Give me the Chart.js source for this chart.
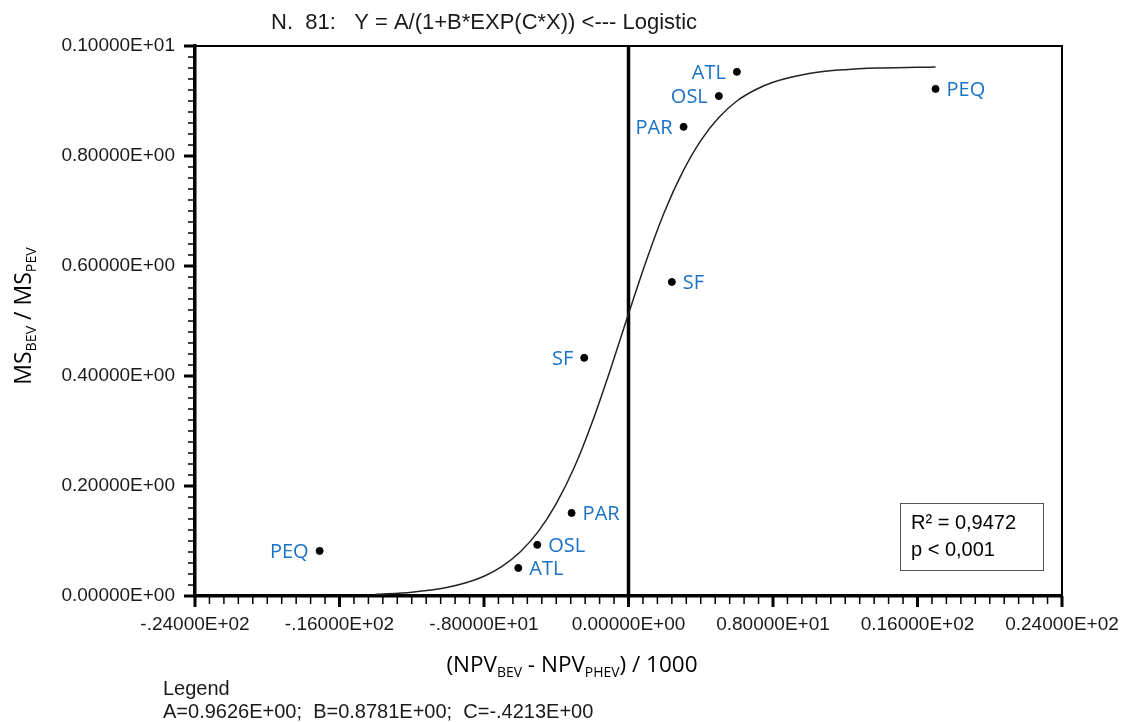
<!DOCTYPE html>
<html>
<head>
<meta charset="utf-8">
<script src="https://cdn.jsdelivr.net/npm/chart.js@4/dist/chart.umd.min.js"></script>
<style>
  body { margin: 0; background: #fff; }
  canvas { display: block; }
</style>
</head>
<body>
<canvas id="chart" width="1121" height="722"></canvas>
<script>
// observed cities, (NPV_BEV - NPV_PHEV)/1000 vs MS ratio
const pointNames = ["PEQ", "ATL", "OSL", "PAR", "SF", "SF", "PAR", "OSL", "ATL", "PEQ"]
const pointX = [-17.1, -6.1, -5.05, -3.15, -2.45, 2.4, 3.05, 5.0, 6.0, 17.0]
const pointY = [0.082, 0.051, 0.093, 0.151, 0.433, 0.571, 0.853, 0.909, 0.953, 0.922]
const labelSide = ["left", "right", "right", "right", "left", "right", "left", "left", "left", "right"]

// fitted logistic curve
const curveX = [-14, -12, -10, -9, -8, -7, -6, -5, -4, -3, -2, -1, 0, 1, 2, 3, 4, 5, 6, 7, 8, 10, 12, 14, 17]
const curveY = [0.003, 0.007, 0.016, 0.024, 0.036, 0.054, 0.080, 0.117, 0.168, 0.234, 0.317, 0.412, 0.513,
                0.611, 0.699, 0.771, 0.828, 0.870, 0.900, 0.920, 0.934, 0.950, 0.957, 0.960, 0.962]

const xTicks = [-24, -16, -8, 0, 8, 16, 24]
const xTickLabels = ["-.24000E+02", "-.16000E+02", "-.80000E+01", "0.00000E+00", "0.80000E+01", "0.16000E+02", "0.24000E+02"]
const yTicks = [0, 0.2, 0.4, 0.6, 0.8, 1.0]
const yTickLabels = ["0.00000E+00", "0.20000E+00", "0.40000E+00", "0.60000E+00", "0.80000E+00", "0.10000E+01"]

const titleText = "N.  81:   Y = A/(1+B*EXP(C*X)) <--- Logistic"
const legendLines = ["Legend", "A=0.9626E+00;  B=0.8781E+00;  C=-.4213E+00"]
const statLines = ["R\u00B2 = 0,9472", "p < 0,001"]

const ARIAL = '"Liberation Sans", Arial, sans-serif'
const CALIBRI = '"Open Sans", sans-serif'
const BLUE = "#1a72c6"

const findLabel = (ticks, labels, v) => {
    const i = ticks.findIndex(t => Math.abs(t - v) < 1e-6)
    return i >= 0 ? labels[i] : ""
}

// draw text with subscripts, parts like [["MS"], ["BEV", true]]
const richWidth = (ctx, parts, size) => parts.reduce((w, p) => {
    ctx.font = `${p[1] ? size * 0.62 : size}px ${CALIBRI}`
    return w + ctx.measureText(p[0]).width
}, 0)

const drawRich = (ctx, parts, x, y, size) => {
    const w = richWidth(ctx, parts, size)
    let cx = x - w / 2
    ctx.textAlign = "left"
    ctx.textBaseline = "alphabetic"
    parts.forEach(p => {
        ctx.font = `${p[1] ? size * 0.62 : size}px ${CALIBRI}`
        ctx.fillText(p[0], cx, p[1] ? y + size * 0.2 : y)
        cx += ctx.measureText(p[0]).width
    })
}

const decorPlugin = {
    id: "decor",
    afterDraw(chart) {
        const ctx = chart.ctx
        const area = chart.chartArea
        const xs = chart.scales.x
        const ys = chart.scales.y
        ctx.save()

        // top and right frame
        ctx.strokeStyle = "#000"
        ctx.lineWidth = 2
        ctx.beginPath()
        ctx.moveTo(area.left, area.top)
        ctx.lineTo(area.right, area.top)
        ctx.lineTo(area.right, area.bottom)
        ctx.stroke()

        // tick marks, major ones heavier
        xs.ticks.forEach(t => {
            const px = xs.getPixelForValue(t.value)
            const major = xTicks.some(v => Math.abs(v - t.value) < 1e-6)
            ctx.lineWidth = major ? 3 : 1.5
            ctx.beginPath()
            ctx.moveTo(px, area.bottom)
            ctx.lineTo(px, area.bottom + (major ? 11 : 8))
            ctx.stroke()
        })
        ys.ticks.forEach(t => {
            const py = ys.getPixelForValue(t.value)
            const major = yTicks.some(v => Math.abs(v - t.value) < 1e-6)
            ctx.lineWidth = major ? 3 : 1.5
            ctx.beginPath()
            ctx.moveTo(area.left, py)
            ctx.lineTo(area.left - (major ? 11 : 7), py)
            ctx.stroke()
        })

        // point labels
        const meta = chart.getDatasetMeta(0)
        ctx.fillStyle = BLUE
        ctx.font = `20px ${CALIBRI}`
        ctx.textBaseline = "middle"
        meta.data.forEach((el, i) => {
            const left = labelSide[i] === "left"
            ctx.textAlign = left ? "right" : "left"
            ctx.fillText(pointNames[i], el.x + (left ? -11 : 11), el.y + 1)
        })

        // title
        ctx.fillStyle = "#1a1a1a"
        ctx.font = `22px ${ARIAL}`
        ctx.textAlign = "left"
        ctx.textBaseline = "middle"
        ctx.fillText(titleText, 271, 23)

        // legend under the chart
        ctx.font = `20px ${ARIAL}`
        ctx.fillText(legendLines[0], 163, 689)
        ctx.fillText(legendLines[1], 163, 712)

        // stats box
        ctx.strokeStyle = "#555"
        ctx.lineWidth = 1
        ctx.strokeRect(900.5, 503.5, 143, 67)
        ctx.fillStyle = "#000"
        ctx.font = `20px ${ARIAL}`
        ctx.fillText(statLines[0], 911, 523)
        ctx.fillText(statLines[1], 911, 550)

        // axis titles
        ctx.fillStyle = "#000"
        drawRich(ctx, [["(NPV"], ["BEV", true], [" - NPV"], ["PHEV", true], [") / 1000"]], 572, 672, 22.5)
        ctx.translate(31, 316)
        ctx.rotate(-Math.PI / 2)
        drawRich(ctx, [["MS"], ["BEV", true], [" / MS"], ["PEV", true]], 0, 0, 23)
        ctx.restore()
    }
}

const ctx = document.getElementById("chart").getContext("2d")

new Chart(ctx, {
    type: "scatter",
    data: {
        datasets: [
            {
                label: "cities",
                data: pointX.map((x, i) => ({ x: x, y: pointY[i] })),
                backgroundColor: "#000",
                borderColor: "#000",
                pointRadius: 3.5,
                pointHoverRadius: 3.5
            },
            {
                label: "fit",
                data: curveX.map((x, i) => ({ x: x, y: curveY[i] })),
                showLine: true,
                borderColor: "#222",
                borderWidth: 1.5,
                pointRadius: 0,
                cubicInterpolationMode: "monotone"
            },
            {
                label: "zero",
                data: [{ x: 0, y: 0 }, { x: 0, y: 1 }],
                showLine: true,
                borderColor: "#000",
                borderWidth: 3.5,
                pointRadius: 0
            }
        ]
    },
    options: {
        responsive: false,
        animation: false,
        events: [],
        layout: { padding: { left: 0, top: 46, right: 59, bottom: 0 } },
        plugins: {
            legend: { display: false },
            tooltip: { enabled: false }
        },
        scales: {
            x: {
                type: "linear",
                min: -24,
                max: 24,
                afterFit: scale => {
                    scale.height = 126
                    scale.paddingLeft = 0
                    scale.paddingRight = 0
                },
                grid: { display: false, drawTicks: false },
                border: { display: true, color: "#000", width: 3.5 },
                ticks: {
                    stepSize: 0.8,
                    autoSkip: false,
                    maxRotation: 0,
                    padding: 17,
                    color: "#1a1a1a",
                    font: { family: ARIAL, size: 19 },
                    callback: v => findLabel(xTicks, xTickLabels, v)
                }
            },
            y: {
                type: "linear",
                min: 0,
                max: 1,
                afterFit: scale => {
                    scale.width = 195
                    scale.paddingTop = 0
                    scale.paddingBottom = 0
                },
                grid: { display: false, drawTicks: false },
                border: { display: true, color: "#000", width: 3.5 },
                ticks: {
                    stepSize: 0.02,
                    autoSkip: false,
                    padding: 20,
                    color: "#1a1a1a",
                    font: { family: ARIAL, size: 19 },
                    callback: v => findLabel(yTicks, yTickLabels, v)
                }
            }
        }
    },
    plugins: [decorPlugin]
})
</script>
</body>
</html>
